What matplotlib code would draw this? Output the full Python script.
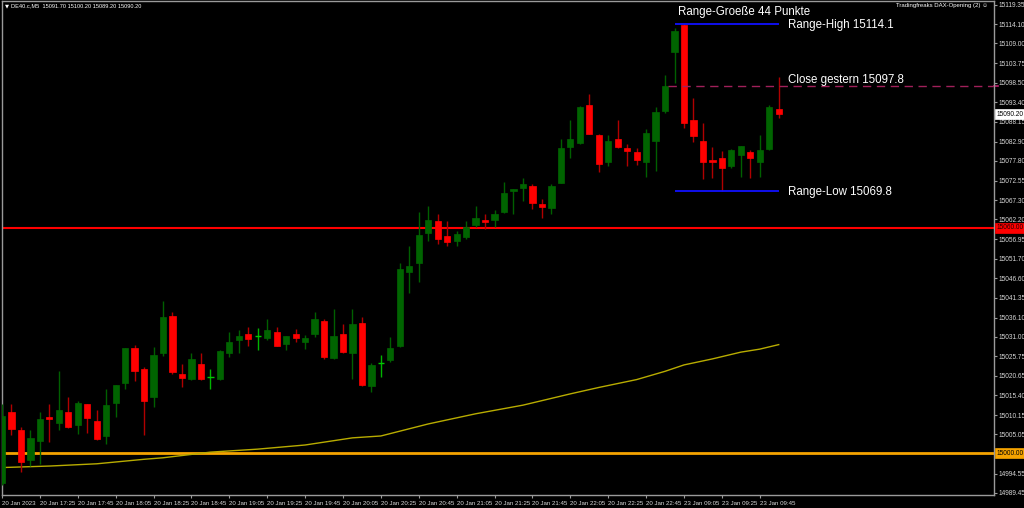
import matplotlib
matplotlib.use("Agg")
import matplotlib.pyplot as plt
from matplotlib.patches import Rectangle
import matplotlib.transforms as mtransforms

# ---------------- data ----------------
opens = [14992.0, 15011.1, 15006.1, 14998.1, 15003.2, 15009.7, 15008.1, 15010.9, 15007.5, 15013.0,
         15008.6, 15004.7, 15013.3, 15018.6, 15027.9, 15022.4, 15015.0, 15026.7, 15036.6, 15021.2,
         15019.8, 15023.8, 15020.2, 15019.7, 15026.6, 15030.1, 15031.7, 15031.1, 15030.6, 15032.3,
         15029.1, 15031.7, 15029.6, 15031.7, 15035.2, 15025.3, 15031.7, 15026.6, 15034.7, 15017.9,
         15023.9, 15024.9, 15028.5, 15048.2, 15050.5, 15058.7, 15061.7, 15057.8, 15056.5, 15057.6,
         15060.6, 15062.1, 15062.0, 15064.2, 15069.7, 15070.5, 15071.1, 15066.2, 15065.2, 15072.0,
         15081.5, 15082.4, 15092.6, 15084.6, 15077.5, 15083.5, 15081.2, 15080.1, 15077.6, 15083.0,
         15091.1, 15106.7, 15113.9, 15088.6, 15083.0, 15078.1, 15078.5, 15076.5, 15079.4, 15080.1,
         15077.5, 15081.0, 15091.7]
highs = [15013.0, 15013.0, 15007.1, 15006.2, 15011.1, 15013.1, 15021.8, 15015.1, 15014.0, 15013.2,
         15011.5, 15017.0, 15018.2, 15028.0, 15028.9, 15022.9, 15028.2, 15040.5, 15037.6, 15023.8,
         15026.7, 15026.8, 15022.3, 15027.5, 15032.3, 15032.8, 15033.6, 15033.2, 15035.7, 15033.6,
         15031.3, 15033.1, 15031.4, 15037.6, 15035.7, 15038.3, 15034.3, 15038.3, 15036.3, 15024.0,
         15026.1, 15031.0, 15050.5, 15055.1, 15064.2, 15065.7, 15063.6, 15061.8, 15059.0, 15061.7,
         15065.7, 15063.6, 15064.7, 15072.2, 15070.3, 15073.2, 15071.7, 15067.6, 15071.7, 15083.5,
         15088.6, 15092.4, 15095.6, 15084.8, 15084.6, 15088.6, 15082.2, 15081.2, 15086.2, 15092.1,
         15100.5, 15113.0, 15114.1, 15094.6, 15087.9, 15081.5, 15080.3, 15081.0, 15081.8, 15080.6,
         15084.6, 15092.6, 15100.2]
lows = [14991.5, 15004.9, 14995.1, 14996.6, 14997.2, 15003.1, 15006.1, 15006.6, 15005.1, 15005.3,
        15003.4, 15002.4, 15009.7, 15017.0, 15019.3, 15004.9, 15012.4, 15025.9, 15021.2, 15017.6,
        15019.6, 15019.5, 15017.2, 15019.5, 15025.7, 15026.6, 15028.6, 15027.5, 15030.1, 15028.4,
        15027.6, 15029.6, 15027.7, 15030.9, 15025.1, 15025.1, 15026.6, 15019.7, 15018.0, 15016.4,
        15020.3, 15024.2, 15028.3, 15042.7, 15045.5, 15056.5, 15055.7, 15055.2, 15055.2, 15057.0,
        15060.1, 15059.6, 15060.1, 15064.0, 15063.6, 15067.1, 15065.0, 15062.7, 15063.6, 15071.8,
        15078.5, 15082.2, 15084.8, 15074.9, 15076.5, 15081.3, 15076.5, 15076.6, 15073.6, 15075.2,
        15090.5, 15098.4, 15086.4, 15082.8, 15072.9, 15073.3, 15069.8, 15075.8, 15073.5, 15073.1,
        15073.5, 15080.8, 15089.2]
closes = [15010.0, 15006.5, 14997.7, 15004.1, 15009.2, 15009.0, 15011.5, 15007.1, 15013.5, 15009.5,
          15003.8, 15012.8, 15018.1, 15027.9, 15022.0, 15013.9, 15026.2, 15036.2, 15021.6, 15020.1,
          15025.1, 15019.7, 15020.2, 15027.2, 15029.7, 15031.1, 15030.5, 15031.1, 15032.7, 15028.6,
          15031.2, 15030.7, 15030.7, 15035.6, 15025.7, 15031.3, 15027.0, 15034.3, 15018.1, 15023.6,
          15023.9, 15027.9, 15048.9, 15049.9, 15058.1, 15062.1, 15057.0, 15056.1, 15058.3, 15060.3,
          15062.6, 15061.5, 15063.6, 15069.1, 15070.2, 15071.7, 15066.6, 15065.6, 15071.0, 15081.2,
          15083.5, 15092.1, 15085.0, 15077.0, 15083.1, 15081.5, 15080.5, 15078.0, 15085.2, 15090.7,
          15097.6, 15112.4, 15087.9, 15084.5, 15077.5, 15077.6, 15076.0, 15080.6, 15081.7, 15078.6,
          15080.7, 15092.1, 15090.2]

# moving average, read at sampled candle indices
ma_idx = [0, 5, 10, 15, 17, 22, 27, 32, 37, 40, 45, 50, 55, 60, 63, 67, 70, 72, 75, 78, 80, 82]
ma_val = [14996.2, 14996.6, 14997.2, 14998.4, 14998.8, 15000.3, 15001.1, 15002.2, 15004.1, 15004.6,
          15007.8, 15010.5, 15012.8, 15015.8, 15017.5, 15019.6, 15021.8, 15023.5, 15025.1, 15026.9,
          15027.7, 15028.9]

xtick_idx = list(range(0, 81, 4))
xtick_labels = ["20 Jan 2023", "20 Jan 17:25", "20 Jan 17:45", "20 Jan 18:05", "20 Jan 18:25",
                "20 Jan 18:45", "20 Jan 19:05", "20 Jan 19:25", "20 Jan 19:45", "20 Jan 20:05",
                "20 Jan 20:25", "20 Jan 20:45", "20 Jan 21:05", "20 Jan 21:25", "20 Jan 21:45",
                "20 Jan 22:05", "20 Jan 22:25", "20 Jan 22:45", "23 Jan 09:05", "23 Jan 09:25",
                "23 Jan 09:45"]
ytick_vals = [15119.35, 15114.10, 15109.00, 15103.75, 15098.50, 15093.40, 15088.15, 15082.90,
              15077.80, 15072.55, 15067.30, 15062.20, 15056.95, 15051.70, 15046.60, 15041.35,
              15036.10, 15031.00, 15025.75, 15020.65, 15015.40, 15010.15, 15005.05, 14994.55,
              14989.45]

range_high = 15114.1
range_low = 15069.8
close_prev = 15097.8
range_size = 44
level_red = 15060.0
level_orange = 15000.0
current = 15090.20
range_start, range_end = 71, 82

# ---------------- figure ----------------
W, H = 1024, 508
fig = plt.figure(figsize=(W / 100, H / 100), dpi=100, facecolor="black")
left_px, right_px, top_px, bot_px = 2, 994, 1, 495
ax = fig.add_axes([left_px / W, 1 - bot_px / H, (right_px - left_px) / W, (bot_px - top_px) / H])
ax.set_facecolor("black")

spacing = 9.475
x0px = 1.7
ax.set_xlim((left_px - x0px) / spacing, (right_px - x0px) / spacing)
ax.set_ylim(14988.9, 15120.3)

for s in ax.spines.values():
    s.set_color("#9a9a9a")
    s.set_linewidth(1)

# levels
ax.axhline(level_orange, color="#f5a300", lw=2, zorder=1)
ax.axhline(level_red, color="#ff0000", lw=1.5, zorder=1)

# moving average
ax.plot(ma_idx, ma_val, color="#b8ac00", lw=1, zorder=2)

# candles
bw = 0.66
for i, (o, h, l, c) in enumerate(zip(opens, highs, lows, closes)):
    if abs(c - o) < 0.05:
        ax.vlines(i, l, h, color="#00b400", lw=1, zorder=3)
        ax.hlines(o, i - bw / 2, i + bw / 2, color="#00c800", lw=1, zorder=3)
        continue
    up = c > o
    wick = "#006000" if up else "#b00000"
    body = "#006400" if up else "#ff0000"
    ax.vlines(i, l, h, color=wick, lw=1, zorder=3)
    ax.add_patch(Rectangle((i - bw / 2, min(o, c)), bw, abs(c - o), facecolor=body,
                           edgecolor=body, lw=0.5, zorder=4))

# range lines
ax.hlines([range_high, range_low], range_start, range_end, color="#1010ff", lw=1.3, zorder=5)
ax.hlines(close_prev, range_start - 0.7, ax.get_xlim()[1], color="#a0205a", lw=1,
          linestyles=(0, (6, 4)), zorder=5)

fnt = "Liberation Sans"
fs = 8.3
ax.text(range_start + 0.35, 15117.4, f"Range-Groeße {range_size} Punkte", color="white",
        fontsize=fs, family=fnt, va="center", ha="left", zorder=6)
ax.text(range_end + 1.0, range_high - 0.2, f"Range-High {range_high}", color="white",
        fontsize=fs, family=fnt, va="center", ha="left", zorder=6)
ax.text(range_end + 1.0, close_prev + 1.4, f"Close gestern {close_prev}", color="white",
        fontsize=fs, family=fnt, va="center", ha="left", zorder=6)
ax.text(range_end + 1.0, range_low - 0.2, f"Range-Low {range_low}", color="white",
        fontsize=fs, family=fnt, va="center", ha="left", zorder=6)

# axes ticks
ax.yaxis.tick_right()
ax.set_yticks(ytick_vals)
ax.set_yticklabels([f"{v:.2f}" for v in ytick_vals])
ax.tick_params(axis="y", colors="#9a9a9a", labelcolor="#d8d8d8", labelsize=4.7,
               length=2.5, width=0.8, pad=1)
ax.set_xticks(xtick_idx)
ax.set_xticklabels(xtick_labels)
ax.tick_params(axis="x", colors="#9a9a9a", labelcolor="#d8d8d8", labelsize=4.4,
               length=2.5, width=0.8, pad=1.5)
for lab in ax.get_xticklabels():
    lab.set_horizontalalignment("left")
for lab in ax.get_xticklabels() + ax.get_yticklabels():
    lab.set_family(fnt)

# price boxes on the right axis
trans = mtransforms.blended_transform_factory(ax.transAxes, ax.transData)
for val, bg, fg in [(current, "white", "black"), (level_red, "#ff0000", "#200000"),
                    (level_orange, "#f5a300", "black")]:
    ax.text(1.0025, val, f"{val:.2f}", transform=trans, fontsize=4.7, family=fnt, color=fg,
            va="center", ha="left", clip_on=False, zorder=7,
            bbox=dict(boxstyle="square,pad=0.25", fc=bg, ec=bg, lw=0.5))
ax.plot([1.0, 1.004], [close_prev, close_prev], transform=trans, color="#c02070", lw=1.2,
        clip_on=False)

# header texts
fig.text(5 / W, 1 - 6 / H, "▼", color="white", fontsize=3.8, va="center", ha="left")
fig.text(11 / W, 1 - 6 / H, "DE40.c,M5  15091.70 15100.20 15089.20 15090.20", color="white",
         fontsize=4.1, family=fnt, va="center", ha="left")
fig.text(988 / W, 1 - 6 / H, "Tradingfreaks DAX-Opening (2) ☺", color="white",
         fontsize=4.3, family=[fnt, "DejaVu Sans"], va="center", ha="right")

fig.savefig("out.png", dpi=100, facecolor="black")
